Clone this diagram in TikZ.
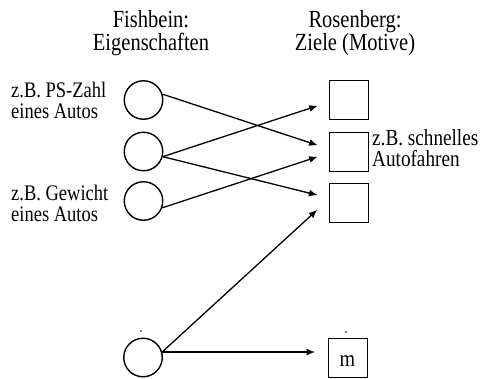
\documentclass[tikz,border=0pt]{standalone}
\usepackage{fontspec}
\setmainfont{Liberation Serif}
\usetikzlibrary{arrows.meta,calc}
\newcommand{\vst}[1]{\scalebox{1}[1.2]{#1}}
\begin{document}
\begin{tikzpicture}[x=1pt,y=-1pt,
  attr/.style={circle,draw,line width=1.4pt,minimum size=38.5pt,inner sep=0pt},
  goal/.style={rectangle,draw,line width=1.4pt,minimum size=38.5pt,inner sep=0pt},
  head/.style={anchor=base,inner sep=0pt,font=\fontsize{20.5}{24}\selectfont},
  lab/.style={anchor=base west,inner sep=0pt,font=\fontsize{18.5}{20}\selectfont},
  conn/.style={line width=1.3pt,-{Latex[length=8.5pt,width=7pt]},shorten >=12pt},
  dotn/.style={circle,fill,inner sep=0pt,minimum size=1.8pt}]
\useasboundingbox (0,0) rectangle (484,378);
% attribute circles
\node[attr] (c1) at (143.5,100) {};
\node[attr] (c2) at (143.5,151.5) {};
\node[attr] (c3) at (143.5,201) {};
\node[attr] (c4) at (143,357.5) {};
% goal squares
\node[goal] (s1) at (349,100) {};
\node[goal] (s2) at (349,152) {};
\node[goal] (s3) at (349,203) {};
\node[goal] (m) at (348,358) {};
\node[anchor=base,inner sep=0pt,font=\fontsize{20}{24}\selectfont] (mlab) at (347.5,366.5) {\scalebox{1}[1.15]{m}};
% dots
\node[dotn] (d1) at (141,331) {};
\node[dotn] (d2) at (346,332) {};
% headings
\node[head] (h1a) at (151,27) {\vst{Fishbein:}};
\node[head] (h1b) at (151,50) {\vst{Eigenschaften}};
\node[head] (h2a) at (355,27) {\vst{Rosenberg:}};
\node[head] (h2b) at (355,50) {\vst{Ziele (Motive)}};
% labels
\node[lab] (l1a) at (11,97) {\vst{z.B. PS-Zahl}};
\node[lab] (l1b) at (11,118) {\vst{eines Autos}};
\node[lab] (l3a) at (11,200.5) {\vst{z.B. Gewicht}};
\node[lab] (l3b) at (11,221.5) {\vst{eines Autos}};
\node[lab,font=\fontsize{19.2}{20}\selectfont] (r2a) at (372,145.5) {\vst{z.B. schnelles}};
\node[lab,font=\fontsize{19.2}{20}\selectfont] (r2b) at (372,166.5) {\vst{Autofahren}};
% connectors
\draw[conn] (c1.17) -- ($(s2.west)+(0,-3)$);
\draw[conn] (c2.-15) -- ($(s1.west)+(0,2)$);
\draw[conn] (c2.-15) -- ($(s3.west)+(0,-5)$);
\draw[conn] (c3.-20) -- ($(s2.west)+(0,1)$);
\draw[conn,shorten >=16pt] (c4.16) -- ($(s3.west)+(0,-4)$);
\draw[conn,shorten >=13pt] (c4.16) -- (c4.16 -| m.west);
\end{tikzpicture}
\end{document}
